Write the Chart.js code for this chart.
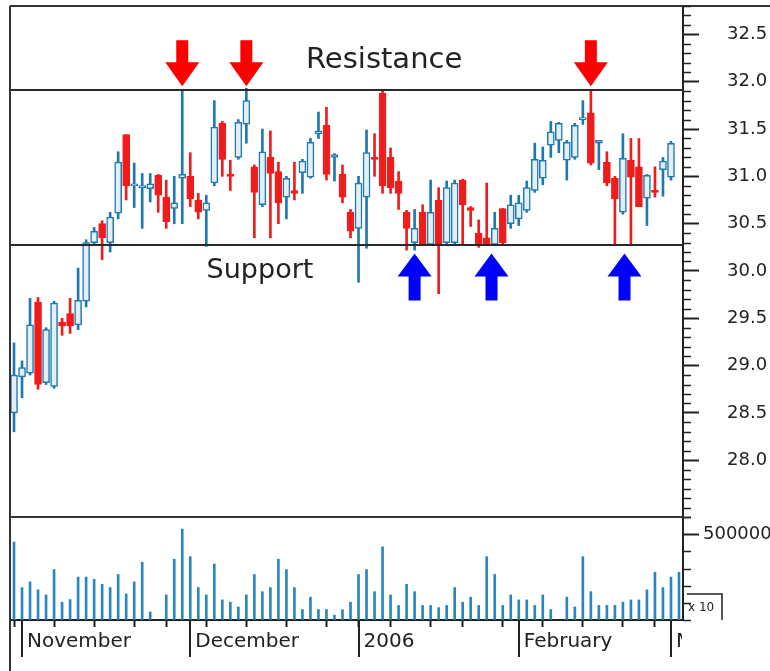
<!DOCTYPE html>
<html>
<head>
<meta charset="utf-8">
<title>Support and resistance</title>
<script src="https://cdn.jsdelivr.net/npm/chart.js@4.4.1/dist/chart.umd.min.js"></script>
<style>
  html, body { margin: 0; padding: 0; background: #fff; }
  #chart { display: block; }
</style>
</head>
<body>
<canvas id="chart" width="770" height="671"></canvas>
<script>
// trading days on the x axis
const days = [
  '2005-10-31',
  '2005-11-01', '2005-11-02', '2005-11-03', '2005-11-04', '2005-11-07', '2005-11-08', '2005-11-09',
  '2005-11-10', '2005-11-11', '2005-11-14', '2005-11-15', '2005-11-16', '2005-11-17', '2005-11-18',
  '2005-11-21', '2005-11-22', '2005-11-23', '2005-11-25', '2005-11-28', '2005-11-29', '2005-11-30',
  '2005-12-01', '2005-12-02', '2005-12-05', '2005-12-06', '2005-12-07', '2005-12-08', '2005-12-09',
  '2005-12-12', '2005-12-13', '2005-12-14', '2005-12-15', '2005-12-16', '2005-12-19', '2005-12-20',
  '2005-12-21', '2005-12-22', '2005-12-23', '2005-12-27', '2005-12-28', '2005-12-29', '2005-12-30',
  '2006-01-03', '2006-01-04', '2006-01-05', '2006-01-06', '2006-01-09', '2006-01-10', '2006-01-11',
  '2006-01-12', '2006-01-13', '2006-01-17', '2006-01-18', '2006-01-19', '2006-01-20', '2006-01-23',
  '2006-01-24', '2006-01-25', '2006-01-26', '2006-01-27', '2006-01-30', '2006-01-31',
  '2006-02-01', '2006-02-02', '2006-02-03', '2006-02-06', '2006-02-07', '2006-02-08', '2006-02-09',
  '2006-02-10', '2006-02-13', '2006-02-14', '2006-02-15', '2006-02-16', '2006-02-17', '2006-02-21',
  '2006-02-22', '2006-02-23', '2006-02-24', '2006-02-27', '2006-02-28',
  '2006-03-01', '2006-03-02'
];

const opens = [
  28.50, 28.88, 28.92, 29.67, 28.82, 28.78, 29.46, 29.55, 29.43, 29.68,
  30.30, 30.50, 30.30, 30.61, 31.44, 30.90, 30.88, 30.87, 31.01, 30.78,
  30.66, 30.98, 31.00, 30.75, 30.64, 30.93, 31.56, 31.02, 31.20, 31.55,
  31.10, 30.70, 31.20, 31.05, 30.78, 30.85, 31.04, 30.99, 31.45, 31.54,
  31.20, 31.02, 30.62, 30.45, 30.78, 31.20, 31.88, 31.20, 30.95, 30.62,
  30.30, 30.62, 30.28, 30.75, 30.30, 30.30, 30.96, 30.67, 30.40, 30.35,
  30.28, 30.66, 30.50, 30.55, 30.64, 30.85, 30.98, 31.33, 31.38, 31.17,
  31.20, 31.60, 31.67, 31.35, 31.15, 30.98, 30.62, 31.17, 31.10, 30.77,
  30.85, 31.07, 30.99
];
const highs = [
  29.24, 29.05, 29.71, 29.72, 29.40, 29.68, 29.50, 29.71, 30.03, 30.33,
  30.46, 30.53, 30.62, 31.26, 31.44, 31.14, 31.03, 31.03, 31.02, 30.96,
  31.00, 31.92, 31.25, 30.82, 30.80, 31.80, 31.58, 31.17, 31.60, 31.93,
  31.12, 31.50, 31.48, 31.15, 31.00, 31.15, 31.18, 31.40, 31.68, 31.73,
  31.24, 31.12, 30.65, 31.00, 31.49, 31.45, 31.92, 31.30, 31.05, 30.64,
  30.65, 30.70, 30.96, 30.88, 30.95, 30.96, 30.97, 30.68, 30.54, 30.93,
  30.62, 30.66, 30.80, 30.80, 30.95, 31.35, 31.31, 31.58, 31.57, 31.38,
  31.56, 31.80, 31.92, 31.38, 31.26, 31.00, 31.45, 31.40, 31.40, 31.02,
  31.10, 31.20, 31.37
];
const lows = [
  28.30, 28.66, 28.90, 28.75, 28.80, 28.76, 29.32, 29.34, 29.38, 29.62,
  30.28, 30.12, 30.20, 30.55, 30.75, 30.67, 30.45, 30.73, 30.62, 30.45,
  30.50, 30.50, 30.68, 30.55, 30.26, 30.90, 31.00, 30.85, 31.18, 31.35,
  30.35, 30.68, 30.35, 30.50, 30.55, 30.75, 30.82, 30.98, 31.40, 30.96,
  30.95, 30.72, 30.35, 29.88, 30.24, 31.00, 30.82, 30.82, 30.65, 30.22,
  30.22, 30.27, 30.27, 29.76, 30.27, 30.27, 30.27, 30.47, 30.25, 30.27,
  30.27, 30.27, 30.45, 30.48, 30.62, 30.83, 30.91, 31.20, 31.25, 30.96,
  31.18, 31.55, 31.12, 31.07, 30.90, 30.27, 30.60, 30.27, 30.68, 30.48,
  30.78, 30.79, 30.96
];
const closes = [
  28.90, 28.98, 29.43, 28.80, 29.38, 29.66, 29.42, 29.42, 29.69, 30.30,
  30.42, 30.35, 30.57, 31.15, 30.90, 30.92, 30.90, 30.92, 30.80, 30.52,
  30.72, 31.02, 30.76, 30.62, 30.72, 31.52, 31.18, 31.00, 31.57, 31.80,
  30.83, 31.26, 31.03, 30.72, 30.98, 30.82, 31.16, 31.36, 31.48, 31.02,
  31.23, 30.78, 30.42, 30.93, 31.25, 31.18, 30.90, 30.88, 30.82, 30.45,
  30.45, 30.28, 30.62, 30.28, 30.88, 30.93, 30.70, 30.64, 30.28, 30.28,
  30.45, 30.30, 30.70, 30.72, 30.88, 31.18, 31.17, 31.47, 31.56, 31.36,
  31.54, 31.62, 31.14, 31.38, 30.93, 30.76, 31.19, 30.99, 30.68, 31.01,
  30.83, 31.16, 31.35
];
const volumes = [
  454000, 189000, 222000, 176000, 146000, 294000, 104000, 119000, 250000, 250000,
  237000, 208000, 189000, 265000, 152000, 222000, 337000, 47000, null, 146000,
  354000, 530000, 369000, 189000, 146000, 326000, 117000, 104000, 76000, 146000,
  265000, 165000, 189000, 354000, 294000, 189000, 61000, 133000, 61000, 61000,
  28000, 60000, 104000, 265000, 294000, 165000, 426000, 146000, 85000, 208000,
  165000, 85000, 85000, 72000, 85000, 189000, 104000, 133000, 85000, 369000,
  265000, 85000, 146000, 117000, 117000, 85000, 146000, 61000, null, 133000,
  76000, 369000, 165000, 85000, 85000, 85000, 104000, 117000, 117000, 176000,
  278000, 189000, 250000, 278000
];

const resistance = 31.91;
const support = 30.27;
const priceTicks = [28.0, 28.5, 29.0, 29.5, 30.0, 30.5, 31.0, 31.5, 32.0, 32.5];
const volumeTicks = [500000];
const monthNames = { '11': 'November', '12': 'December', '01': '2006', '02': 'February', '03': 'March' };

// where the arrows point (day index)
const topArrows = [21, 29, 72];
const bottomArrows = [50, 59.6, 76.2];

const upColor = '#1f78b0';
const upFill = '#e2eff7';
const downColor = '#f01c1c';
const volColor = '#2b86bf';
const ink = '#222';

const weekday = d => new Date(d + 'T00:00:00Z').getUTCDay();
const isMonthStart = i => i > 0 && days[i].slice(5, 7) !== days[i - 1].slice(5, 7);
const isWeekStart = i => i === 0 || weekday(days[i]) < weekday(days[i - 1]);
const isMajorPrice = v => priceTicks.some(p => Math.abs(p - v) < 1e-6);
const isMajorVolume = v => volumeTicks.some(p => Math.abs(p - v) < 1);
const isUp = i => closes[i] >= opens[i];

Chart.defaults.font.family = 'DejaVu Sans';

const decor = {
    id: 'decor',
    afterDatasetsDraw(chart) {
        const ctx = chart.ctx;
        const a = chart.chartArea;
        const x = chart.scales.x, y = chart.scales.y, vol = chart.scales.vol;
        ctx.save();

        // support / resistance lines
        ctx.strokeStyle = '#2a2a2a';
        ctx.lineWidth = 2;
        [resistance, support].forEach(v => {
            const py = Math.round(y.getPixelForValue(v));
            ctx.beginPath();
            ctx.moveTo(a.left, py);
            ctx.lineTo(a.right, py);
            ctx.stroke();
        });

        // frame + panel separator
        ctx.strokeStyle = '#333';
        ctx.beginPath();
        ctx.moveTo(a.left, a.top);
        ctx.lineTo(chart.width, a.top);
        ctx.moveTo(a.left, a.top);
        ctx.lineTo(a.left, chart.height);
        ctx.moveTo(a.left, vol.top);
        ctx.lineTo(a.right, vol.top);
        ctx.stroke();

        // minor ticks on the right axes
        ctx.strokeStyle = ink;
        ctx.lineWidth = 1.5;
        y.ticks.forEach(t => {
            if (isMajorPrice(t.value)) return;
            const py = Math.round(y.getPixelForValue(t.value)) + 0.5;
            ctx.beginPath();
            ctx.moveTo(y.left, py);
            ctx.lineTo(y.left + 8, py);
            ctx.stroke();
        });
        vol.ticks.forEach(t => {
            if (isMajorVolume(t.value)) return;
            const py = Math.round(vol.getPixelForValue(t.value)) + 0.5;
            ctx.beginPath();
            ctx.moveTo(vol.left, py);
            ctx.lineTo(vol.left + 8, py);
            ctx.stroke();
        });

        // long month ticks under the x axis
        ctx.lineWidth = 2;
        days.forEach((d, i) => {
            if (!isMonthStart(i)) return;
            const px = Math.round(x.getPixelForValue(i));
            ctx.beginPath();
            ctx.moveTo(px, a.bottom);
            ctx.lineTo(px, a.bottom + 37);
            ctx.stroke();
        });

        // arrows
        ctx.fillStyle = '#ff0000';
        topArrows.forEach(i => {
            const px = x.getPixelForValue(i);
            const tip = y.getPixelForValue(resistance) - 4;
            ctx.beginPath();
            ctx.moveTo(px, tip);
            ctx.lineTo(px - 17, tip - 24);
            ctx.lineTo(px - 6, tip - 24);
            ctx.lineTo(px - 6, tip - 46);
            ctx.lineTo(px + 6, tip - 46);
            ctx.lineTo(px + 6, tip - 24);
            ctx.lineTo(px + 17, tip - 24);
            ctx.closePath();
            ctx.fill();
        });
        ctx.fillStyle = '#0000ff';
        bottomArrows.forEach(i => {
            const px = x.getPixelForValue(i);
            const tip = y.getPixelForValue(support) + 8;
            ctx.beginPath();
            ctx.moveTo(px, tip);
            ctx.lineTo(px - 17, tip + 23);
            ctx.lineTo(px - 6, tip + 23);
            ctx.lineTo(px - 6, tip + 47);
            ctx.lineTo(px + 6, tip + 47);
            ctx.lineTo(px + 6, tip + 23);
            ctx.lineTo(px + 17, tip + 23);
            ctx.closePath();
            ctx.fill();
        });

        // text labels
        ctx.fillStyle = ink;
        ctx.textAlign = 'center';
        ctx.textBaseline = 'middle';
        ctx.font = '29px "DejaVu Sans"';
        ctx.fillText('Resistance', x.getPixelForValue(46.2), y.getPixelForValue(32.22));
        ctx.font = '27px "DejaVu Sans"';
        ctx.fillText('Support', x.getPixelForValue(30.7), y.getPixelForValue(30.0));

        ctx.restore();
    },
    afterDraw(chart) {
        const ctx = chart.ctx;
        const a = chart.chartArea;
        ctx.save();
        // hide the part of the last month label past the axis
        ctx.fillStyle = '#fff';
        ctx.fillRect(a.right - 1, a.bottom + 8, chart.width - a.right + 1, chart.height - a.bottom);
        // volume multiplier box
        ctx.strokeStyle = ink;
        ctx.lineWidth = 1.5;
        ctx.beginPath();
        ctx.moveTo(a.right + 4, a.bottom - 26);
        ctx.lineTo(a.right + 39, a.bottom - 26);
        ctx.lineTo(a.right + 39, a.bottom);
        ctx.stroke();
        ctx.fillStyle = ink;
        ctx.font = '12px "DejaVu Sans"';
        ctx.textAlign = 'left';
        ctx.textBaseline = 'middle';
        ctx.fillText('x 10', a.right + 5, a.bottom - 12);
        ctx.restore();
    }
};

new Chart(document.getElementById('chart'), {
    type: 'bar',
    data: {
        labels: days,
        datasets: [{
            label: 'body',
            yAxisID: 'y',
            order: 0,
            grouped: false,
            data: opens.map((o, i) => [o, closes[i]]),
            backgroundColor: opens.map((o, i) => isUp(i) ? upFill : downColor),
            borderColor: opens.map((o, i) => isUp(i) ? upColor : downColor),
            borderWidth: 1.5,
            borderSkipped: false,
            barThickness: 7,
            minBarLength: 2
        }, {
            label: 'wick',
            yAxisID: 'y',
            order: 1,
            grouped: false,
            data: lows.map((l, i) => [l, highs[i]]),
            backgroundColor: lows.map((l, i) => isUp(i) ? upColor : downColor),
            barThickness: 2
        }, {
            label: 'volume',
            yAxisID: 'vol',
            order: 2,
            grouped: false,
            data: volumes,
            backgroundColor: volColor,
            barThickness: 2
        }]
    },
    options: {
        responsive: false,
        animation: false,
        devicePixelRatio: 1,
        events: [],
        layout: { padding: { left: 10, top: 6, right: 0, bottom: 0 } },
        plugins: { legend: { display: false }, tooltip: { enabled: false } },
        scales: {
            x: {
                type: 'category',
                border: { color: ink, width: 2 },
                grid: {
                    offset: false,
                    drawOnChartArea: false,
                    tickLength: 7,
                    tickWidth: 2,
                    tickColor: c => isWeekStart(c.index) ? ink : 'transparent'
                },
                ticks: {
                    autoSkip: false,
                    maxRotation: 0,
                    align: 'start',
                    labelOffset: 5,
                    padding: 3,
                    color: ink,
                    font: { size: 20 },
                    callback: (v, i) => isMonthStart(i) ? monthNames[days[i].slice(5, 7)] : ''
                },
                afterFit: s => { s.height = 51; s.paddingLeft = 0; s.paddingRight = 0; }
            },
            y: {
                type: 'linear',
                position: 'right',
                stack: 'panels',
                stackWeight: 511,
                min: 27.4,
                max: 32.8,
                border: { color: ink, width: 2 },
                grid: {
                    drawOnChartArea: false,
                    tickLength: 16,
                    tickWidth: 2,
                    tickColor: c => isMajorPrice(c.tick.value) ? ink : 'transparent'
                },
                ticks: {
                    stepSize: 0.1,
                    autoSkip: false,
                    padding: 28,
                    color: ink,
                    font: { size: 18 },
                    callback: v => isMajorPrice(v) ? v.toFixed(1) : ''
                },
                afterFit: s => { s.width = 87; s.paddingTop = 0; s.paddingBottom = 0; }
            },
            vol: {
                type: 'linear',
                position: 'right',
                stack: 'panels',
                stackWeight: 103,
                min: 0,
                max: 600000,
                border: { color: ink, width: 2 },
                grid: {
                    drawOnChartArea: false,
                    tickLength: 16,
                    tickWidth: 2,
                    tickColor: c => isMajorVolume(c.tick.value) ? ink : 'transparent'
                },
                ticks: {
                    stepSize: 100000,
                    autoSkip: false,
                    padding: 4,
                    color: ink,
                    font: { size: 18 },
                    callback: v => isMajorVolume(v) ? String(v) : ''
                },
                afterFit: s => { s.width = 87; s.paddingTop = 0; s.paddingBottom = 0; }
            }
        }
    },
    plugins: [decor]
});
</script>
</body>
</html>
